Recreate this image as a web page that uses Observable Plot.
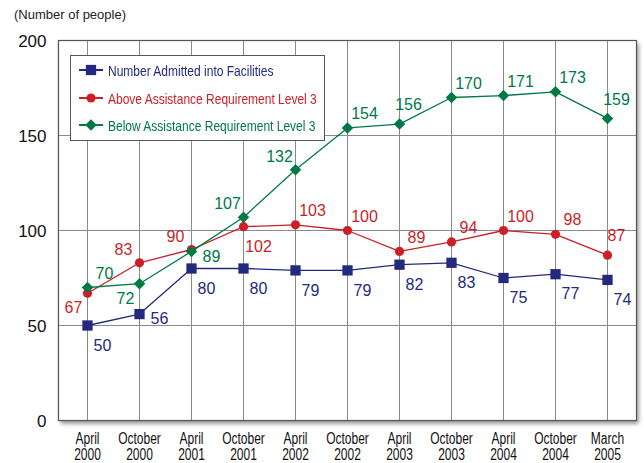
<!DOCTYPE html>
<html><head><meta charset="utf-8">
<script src="https://cdn.jsdelivr.net/npm/d3@7"></script>
<script src="https://cdn.jsdelivr.net/npm/@observablehq/plot@0.6"></script>
<style>
body{margin:0;background:#fff;}
#wrap{position:relative;width:644px;height:463px;font-family:"Liberation Sans",Arial,sans-serif;}
#title{position:absolute;left:14px;top:7px;font-size:13px;color:#222;}
#legend{position:absolute;left:70px;top:55px;width:255px;height:86px;border:1px solid #555;background:#fff;box-sizing:border-box;font-family:"Liberation Sans",Arial,sans-serif;font-size:15px;}
.item{position:absolute;left:6px;height:16px;display:flex;align-items:center;white-space:nowrap;}
.item svg{margin-right:3px;}
.item span{display:inline-block;transform:scaleX(0.8);transform-origin:left center;}
</style></head>
<body><div id="wrap"><div id="title">(Number of people)</div><div id="legend"></div></div>
<script>
const periods = ["April\n2000","October\n2000","April\n2001","October\n2001","April\n2002","October\n2002","April\n2003","October\n2003","April\n2004","October\n2004","March\n2005"];
const seriesNames = ["Number Admitted into Facilities","Above Assistance Requirement Level 3","Below Assistance Requirement Level 3"];
const admitted = [50,56,80,80,79,79,82,83,75,77,74];
const aboveLevel3 = [67,83,90,102,103,100,89,94,100,98,87];
const belowLevel3 = [70,72,89,107,132,154,156,170,171,173,159];
const yTicks = [0,50,100,150,200];

// label placement codes (relative to point)
const admittedLabelPos = ["se","e","se","se","se","se","se","se","se","se","se"];
const aboveLabelPos = ["sw","nw","nw","se","ne","ne","ne","ne","ne","ne","n"];
const belowLabelPos = ["ne","sw","e","nw","nw","ne","n","ne","ne","ne","n"];

const colors = ["#232a7d","#cc1f27","#007a45"];
const symbols = ["square","circle","diamond2"];
const radii = [5.8,4.6,5.2];
const offsets = {se:[15,20], e:[20,5], sw:[-14,15], nw:[-16,-13], ne:[17,-14], n:[9,-19]};

const valuesList = [admitted, aboveLevel3, belowLevel3];
const posList = [admittedLabelPos, aboveLabelPos, belowLabelPos];
const data = [];
valuesList.forEach((vals, s) => vals.forEach((v, i) => data.push({series: seriesNames[s], s, period: periods[i], value: v, pos: posList[s][i]})));

const marks = [
  Plot.frame({fill:"white", stroke:"none", className:"shadowframe"}),
  Plot.ruleX(periods, {x: d => d, stroke:"#8a8a8a", strokeWidth:1, strokeOpacity:1}),
  Plot.ruleY([50,100,150], {y: d => d, stroke:"#8a8a8a", strokeWidth:1, strokeOpacity:1}),
  Plot.frame({stroke:"#555", strokeWidth:1.2}),
  Plot.axisY({ticks: yTicks, tickSize:0, tickPadding:12, fontSize:17, label:null, fill:"#111", dy:1}),
  Plot.axisX({tickSize:0, tickPadding:12, fontSize:16, label:null, lineHeight:1.02, fill:"#111", className:"xaxis"})
];
[0,1,2].forEach(s => {
  const d = data.filter(r => r.s === s);
  marks.push(Plot.line(d, {x:"period", y:"value", stroke: colors[s], strokeWidth:1.3}));
  marks.push(Plot.dot(d, {x:"period", y:"value", fill: colors[s], stroke:"none", symbol: symbols[s], r: radii[s]}));
});
[0,1,2].forEach(s => {
  Object.keys(offsets).forEach(code => {
    const d = data.filter(r => r.s === s && r.pos === code);
    if (!d.length) return;
    marks.push(Plot.text(d, {x:"period", y:"value", text: r => String(r.value), fill: colors[s], fontSize:16, dx: offsets[code][0], dy: offsets[code][1], textAnchor:"middle"}));
  });
});

const chart = Plot.plot({
  width:644, height:463,
  marginLeft:58, marginRight:8, marginTop:40, marginBottom:43,
  style:{fontFamily:"'Liberation Sans', Arial, sans-serif", background:"transparent", overflow:"visible"},
  x:{type:"point", domain: periods, padding:0.5},
  y:{domain:[0,200]},
  marks
});
chart.style.position = "absolute";
chart.style.left = "0"; chart.style.top = "0";
const sf = chart.querySelector(".shadowframe rect, rect.shadowframe, g.shadowframe rect") || chart.querySelector("[aria-label=frame]");
if (sf) sf.style.filter = "drop-shadow(2px 3px 2px rgba(0,0,0,0.45))";
const wrap = document.getElementById("wrap");
wrap.insertBefore(chart, wrap.firstChild);

// condense x-axis tick labels
const xg = chart.querySelector("g.xaxis");
if (xg) xg.setAttribute("font-size", "16");
chart.querySelectorAll("g.xaxis tspan").forEach(t => {
  const L = t.getComputedTextLength();
  t.setAttribute("textLength", (L * 0.75).toFixed(1));
  t.setAttribute("lengthAdjust", "spacingAndGlyphs");
});

const legend = document.getElementById("legend");
const rowsTop = [6, 34, 61];
seriesNames.forEach((name, s) => {
  const item = document.createElement("div");
  item.className = "item";
  item.style.top = rowsTop[s] + "px";
  const sym = d3.symbol(d3[{square:"symbolSquare",circle:"symbolCircle",diamond2:"symbolDiamond2"}[symbols[s]]], Math.PI*radii[s]*radii[s])();
  item.innerHTML = `<svg width="28" height="16"><line x1="2" x2="26" y1="8" y2="8" stroke="${colors[s]}" stroke-width="2"/><path transform="translate(14,8)" d="${sym}" fill="${colors[s]}"/></svg><span style="color:${colors[s]}">${name}</span>`;
  legend.appendChild(item);
});
</script></body></html>
